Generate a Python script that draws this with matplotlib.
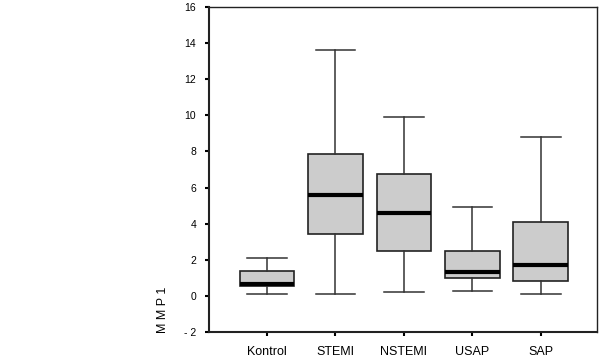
import matplotlib
matplotlib.use("Agg")
import matplotlib.pyplot as plt

plt.rcParams['font.family'] = ['Liberation Sans', 'DejaVu Sans']

groups = ['Kontrol', 'STEMI', 'NSTEMI', 'USAP', 'SAP']
whislo = [0.11, 0.13, 0.20, 0.28, 0.13]
q1 = [0.54, 3.44, 2.48, 0.98, 0.80]
med = [0.63, 5.56, 4.59, 1.32, 1.71]
q3 = [1.39, 7.83, 6.72, 2.48, 4.11]
whishi = [2.11, 13.6, 9.93, 4.91, 8.78]

stats = []
for i, g in enumerate(groups):
    stats.append({'label': g, 'whislo': whislo[i], 'q1': q1[i], 'med': med[i],
                  'q3': q3[i], 'whishi': whishi[i], 'fliers': []})

fig = plt.figure(figsize=(6, 3.64), dpi=100)
ax = fig.add_axes([0.348, 0.088, 0.647, 0.893])

ax.bxp(stats, positions=range(len(groups)), widths=0.8, patch_artist=True,
       showfliers=False,
       boxprops=dict(facecolor='#cccccc', edgecolor='#222222', linewidth=1.2),
       medianprops=dict(color='black', linewidth=3),
       whiskerprops=dict(color='#333333', linewidth=1.1),
       capprops=dict(color='#333333', linewidth=1.1),
       capwidths=0.58)

ax.set_xlim(-0.85, 4.82)
ax.set_ylim(-2, 16)
ax.set_yticks(range(-2, 17, 2))
ax.set_yticklabels([str(v) if v >= 0 else '- 2' for v in range(-2, 17, 2)])
ax.tick_params(axis='both', direction='out', length=3, width=1.5,
               colors='black')
ax.tick_params(axis='y', pad=6, labelsize=7.5)
ax.tick_params(axis='x', pad=7, labelsize=9)
for s in ax.spines.values():
    s.set_linewidth(1.0)
    s.set_color('#222222')
ax.spines['left'].set_linewidth(1.5)
ax.spines['bottom'].set_linewidth(1.5)

fig.text(0.272, 0.148, 'M M P 1', rotation=90, ha='center', va='center', fontsize=9)

fig.savefig('out.png', dpi=100)
